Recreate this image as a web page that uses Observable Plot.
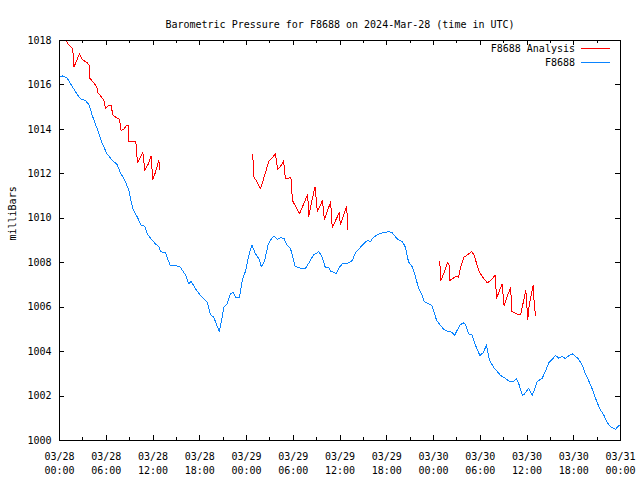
<!DOCTYPE html>
<html>
<head>
<meta charset="utf-8">
<script src="https://cdn.jsdelivr.net/npm/d3@7"></script>
<script src="https://cdn.jsdelivr.net/npm/@observablehq/plot@0.6"></script>
<style>
  body { margin: 0; background: white; }
  #wrap { position: relative; width: 640px; height: 480px; font-family: "DejaVu Sans Mono", monospace; font-size: 10px; }
  .leg { position: absolute; right: 65px; height: 12px; line-height: 12px; white-space: pre; color: black; }
  .sw { position: absolute; left: 581px; width: 29px; height: 1px; }
  #wrap svg path, #wrap svg line, #wrap svg rect { shape-rendering: crispEdges; }
</style>
</head>
<body>
<div id="wrap"></div>
<script>
// Hours after 2024-03-28 00:00 UTC, pressure in millibars
const stationObs = [
  [0,1016.34],[0.43,1016.41],[1.0,1016.3],[1.6,1015.95],[2.3,1015.56],[2.7,1015.37],[3.3,1015.31],
  [3.8,1015.1],[4.2,1014.63],[4.6,1014.25],[5.0,1013.88],[5.5,1013.35],[6.1,1012.9],[6.8,1012.6],
  [7.4,1012.42],[7.8,1012.07],[8.5,1011.62],[8.9,1011.25],[9.2,1010.72],[9.5,1010.35],[10.0,1010.05],
  [10.3,1009.82],[10.5,1009.68],[10.95,1009.64],[11.25,1009.3],[11.7,1009.1],[12.3,1008.85],[12.8,1008.7],
  [12.96,1008.5],[13.6,1008.45],[14.2,1007.88],[14.9,1007.88],[15.5,1007.8],[16.2,1007.43],[16.6,1007.05],
  [16.9,1007.16],[17.45,1006.83],[18.1,1006.53],[18.95,1006.22],[19.4,1005.65],[19.8,1005.55],[20.2,1005.18],
  [20.5,1004.9],[20.75,1005.32],[21.1,1006.0],[21.5,1006.15],[21.95,1006.6],[22.25,1006.67],[22.6,1006.45],
  [23.1,1006.45],[23.45,1007.2],[23.9,1007.65],[24.3,1008.33],[24.7,1008.8],[25.15,1008.4],[25.6,1008.18],
  [25.9,1007.83],[26.3,1008.05],[26.75,1008.78],[27.1,1009.03],[27.5,1009.2],[28.0,1009.05],[28.35,1009.12],
  [28.8,1009.1],[29.1,1008.85],[29.65,1008.63],[30.0,1008.18],[30.2,1007.85],[30.9,1007.76],[31.6,1007.76],
  [32.2,1008.1],[32.6,1008.35],[33.3,1008.5],[33.7,1008.25],[34.1,1007.8],[34.6,1007.76],[34.8,1007.6],
  [35.3,1007.57],[35.5,1007.5],[35.85,1007.76],[36.3,1007.95],[36.9,1007.95],[37.6,1008.1],[38.0,1008.47],
  [38.5,1008.65],[39.05,1008.85],[39.5,1009.0],[39.9,1008.95],[40.3,1009.15],[41.0,1009.3],[41.6,1009.35],
  [42.3,1009.4],[42.7,1009.35],[43.3,1009.08],[44.0,1008.95],[44.4,1008.7],[44.8,1008.03],[45.3,1007.8],
  [45.7,1007.35],[46.1,1006.83],[46.55,1006.53],[46.8,1006.26],[47.4,1006.15],[47.8,1006.08],[48.0,1005.85],
  [48.4,1005.4],[48.9,1005.18],[49.3,1005.0],[49.95,1004.9],[50.4,1004.87],[50.7,1004.73],[50.95,1004.9],
  [51.4,1005.2],[51.9,1005.3],[52.2,1005.15],[52.5,1004.8],[52.95,1004.75],[53.4,1004.27],[53.95,1003.83],
  [54.4,1003.95],[54.8,1004.3],[55.2,1003.6],[55.7,1003.3],[56.2,1003.1],[56.6,1002.93],[57.2,1002.8],
  [57.8,1002.65],[58.2,1002.65],[58.65,1002.78],[58.95,1002.55],[59.4,1002.03],[59.7,1002.1],[60.2,1002.35],
  [60.65,1002.03],[61.0,1002.33],[61.3,1002.65],[61.95,1002.8],[62.4,1003.15],[62.8,1003.5],[63.4,1003.72],
  [63.65,1003.83],[64.1,1003.7],[64.5,1003.8],[64.9,1003.68],[65.4,1003.83],[65.8,1003.9],[66.2,1003.8],
  [66.65,1003.65],[67.1,1003.38],[67.5,1003.0],[67.9,1002.7],[68.35,1002.33],[68.8,1001.9],[69.3,1001.45],
  [69.85,1001.15],[70.3,1000.8],[70.8,1000.6],[71.35,1000.5],[71.8,1000.67],[72,1000.7]
];
const analysisRun1 = [
  [0.86,1018.0],[1.1,1017.85],[1.5,1017.7],[1.7,1017.62],[1.85,1016.8],[2.3,1017.18],[2.55,1017.4],
  [2.9,1017.15],[3.55,1017.0],[3.8,1016.9],[3.9,1016.3],[4.5,1016.05],[4.85,1015.85],[4.95,1015.64],
  [5.25,1015.52],[5.7,1015.3],[5.9,1014.93],[6.25,1015.05],[6.6,1015.1],[6.85,1014.65],[7.2,1014.55],
  [7.7,1014.45],[7.9,1013.95],[8.25,1014.0],[8.55,1014.15],[8.8,1014.17],[8.9,1013.45],[9.8,1013.45],
  [10.0,1012.52],[10.3,1012.67],[10.7,1012.97],[10.95,1012.15],[11.4,1012.45],[11.75,1012.8],[11.97,1011.75],
  [12.3,1012.05],[12.75,1012.6],[12.9,1012.18]
];
const analysisRun2 = [
  [24.8,1012.86],[24.95,1011.85],[25.25,1011.7],[25.8,1011.34],[26.2,1011.78],[26.85,1012.55],[27.2,1012.68],
  [27.7,1012.9],[28.0,1012.2],[28.5,1012.4],[28.75,1012.6],[29.0,1011.77],[29.35,1011.8],[29.7,1011.85],
  [29.9,1010.8],[30.8,1010.2],[31.85,1011.08],[32.0,1010.09],[32.4,1010.8],[32.8,1011.42],[33.1,1010.3],
  [33.75,1010.8],[34.0,1009.94],[34.8,1010.74],[35.0,1009.58],[35.9,1010.25],[36.05,1009.7],[36.85,1010.55],
  [37.02,1009.46]
];
const analysisRun3 = [
  [48.8,1008.06],[48.95,1007.2],[49.4,1007.58],[49.8,1008.0],[50.0,1007.88],[50.1,1007.2],[50.5,1007.3],
  [50.95,1007.4],[51.2,1007.35],[51.5,1007.8],[51.9,1008.25],[52.4,1008.36],[52.9,1008.5],[53.2,1008.36],
  [53.8,1007.65],[54.3,1007.35],[54.9,1007.1],[55.35,1007.2],[55.9,1007.43],[56.1,1006.4],[56.8,1007.05],
  [57.05,1006.08],[57.9,1006.9],[58.05,1005.8],[59.0,1005.65],[59.2,1005.7],[59.85,1006.75],[60.1,1005.45],
  [60.3,1006.15],[60.8,1007.0],[60.95,1006.0],[61.15,1005.6]
];
const xMajorHours = [0,6,12,18,24,30,36,42,48,54,60,66,72];
const xMinorHours = [3,9,15,21,27,33,39,45,51,57,63,69];
const xTickLabels = ["03/28\n00:00","03/28\n06:00","03/28\n12:00","03/28\n18:00","03/29\n00:00","03/29\n06:00",
  "03/29\n12:00","03/29\n18:00","03/30\n00:00","03/30\n06:00","03/30\n12:00","03/30\n18:00","03/31\n00:00"];
const yTicks = [1000,1002,1004,1006,1008,1010,1012,1014,1016,1018];
const titleText = "Barometric Pressure for F8688 on 2024-Mar-28 (time in UTC)";
const yLabel = "milliBars";
const seriesNames = ["F8688 Analysis", "F8688"];
const seriesColors = ["#ff0000", "#0a84ff"];

const t0 = Date.UTC(2024, 2, 28);
const toDate = h => new Date(t0 + h * 3600e3);

const obs = stationObs.map(([h, p]) => ({t: toDate(h), p}));
const analysis = [analysisRun1, analysisRun2, analysisRun3].flatMap((run, i) =>
  run.map(([h, p]) => ({t: toDate(h), p, run: i})));
const xLabelData = xMajorHours.map((h, i) => ({t: toDate(h), label: xTickLabels[i]}));

const chart = Plot.plot({
  width: 640, height: 480,
  marginLeft: 59, marginRight: 20, marginTop: 40, marginBottom: 40,
  style: {fontFamily: "DejaVu Sans Mono, monospace", fontSize: "10px", background: "white", color: "black"},
  x: {type: "utc", domain: [toDate(0), toDate(72)], axis: null},
  y: {domain: [1000, 1018], axis: null},
  marks: [
    Plot.ruleX(xMajorHours, {x: toDate, insetTop: 395, stroke: "black"}),
    Plot.ruleX(xMajorHours, {x: toDate, insetBottom: 395, stroke: "black"}),
    Plot.ruleX(xMinorHours, {x: toDate, insetTop: 397, stroke: "black"}),
    Plot.ruleX(xMinorHours, {x: toDate, insetBottom: 397, stroke: "black"}),
    Plot.ruleY(yTicks, {y: d => d, insetRight: 556, stroke: "black"}),
    Plot.ruleY(yTicks, {y: d => d, insetLeft: 556, stroke: "black"}),
    Plot.line(obs, {x: "t", y: "p", stroke: seriesColors[1], strokeWidth: 1}),
    Plot.line(analysis, {x: "t", y: "p", z: "run", stroke: seriesColors[0], strokeWidth: 1}),
    Plot.frame({stroke: "black"}),
    Plot.text(yTicks, {y: d => d, text: d => String(d), frameAnchor: "left", dx: -8, textAnchor: "end", fill: "black"}),
    Plot.text(xLabelData, {x: "t", text: "label", frameAnchor: "bottom", dy: 10, lineAnchor: "top", lineHeight: 1.35, fill: "black"}),
    Plot.text([titleText], {frameAnchor: "top", dy: -20, fill: "black"}),
    Plot.text([yLabel], {frameAnchor: "left", dx: -47, rotate: -90, fill: "black"})
  ]
});

const wrap = document.getElementById("wrap");
wrap.appendChild(chart);
const rows = [49, 63];
seriesNames.forEach((name, i) => {
  const t = document.createElement("div");
  t.className = "leg";
  t.style.top = (rows[i] - 6) + "px";
  t.textContent = name;
  wrap.appendChild(t);
  const s = document.createElement("div");
  s.className = "sw";
  s.style.top = (rows[i] - 1) + "px";
  s.style.background = seriesColors[i];
  wrap.appendChild(s);
});
</script>
</body>
</html>
